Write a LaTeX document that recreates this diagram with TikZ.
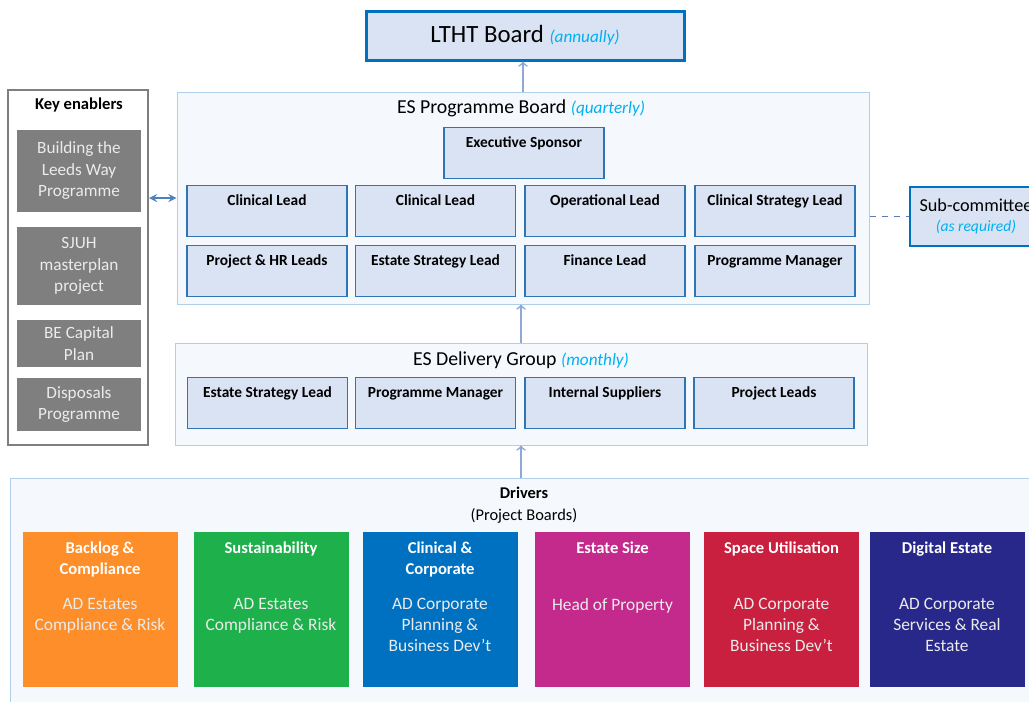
\documentclass[tikz,border=0pt]{standalone}
\usepackage{fontspec}
\setmainfont{Carlito}
\usetikzlibrary{positioning}
\usetikzlibrary{arrows}
\usepackage{xcolor}

\definecolor{lblue}{HTML}{00B0F0}
\definecolor{boxfill}{HTML}{DAE3F3}
\definecolor{boxline}{HTML}{2E75B6}
\definecolor{darkline}{HTML}{0070C0}
\definecolor{grpfill}{HTML}{F5F9FE}
\definecolor{grpline}{HTML}{AFCFEB}
\definecolor{arrline}{HTML}{8EA9D6}
\definecolor{kearrow}{HTML}{4F81BD}
\definecolor{dashline}{HTML}{5A7EB0}
\definecolor{kegrey}{HTML}{7F7F7F}
\definecolor{orng}{HTML}{FD8E2A}
\definecolor{grn}{HTML}{1DB04B}
\definecolor{blu}{HTML}{0070C0}
\definecolor{mag}{HTML}{C4298C}
\definecolor{rd}{HTML}{C8203E}
\definecolor{nvy}{HTML}{28288A}

\newcommand{\cadence}[2][8.6]{{\fontsize{#1}{10}\selectfont\itshape\color{lblue}#2}}
\newcommand{\titlefont}{\fontsize{9.9}{12}\selectfont}

\tikzset{
  grp/.style={draw=grpline, fill=grpfill, line width=0.5pt, inner sep=0pt},
  role/.style={draw=boxline, fill=boxfill, line width=0.7pt, minimum width=80pt,
    inner sep=0pt, text height=10pt, text depth=15.5pt,
    font=\fontsize{7.7}{9}\selectfont\bfseries},
  keybox/.style={fill=kegrey, text=white!92!black, minimum width=62pt, inner sep=0pt,
    align=center, font=\fontsize{8.6}{10.75}\selectfont},
  drv/.style={minimum width=77.5pt, minimum height=77.5pt, inner sep=0pt},
  drvhead/.style={text=white, align=center, inner sep=0pt,
    font=\fontsize{8.3}{10.5}\selectfont\bfseries},
  drvbody/.style={text=white!92!black, align=center, inner sep=0pt,
    font=\fontsize{8.7}{10.5}\selectfont},
}

\begin{document}
\begin{tikzpicture}[x=0.5pt, y=-0.5pt]
%% \draw[help lines, step=50] (0,0) grid (1029,702);
\useasboundingbox (0,0) rectangle (1029,702);
\clip (0,0) rectangle (1029,702);

% top
\node[draw=darkline, line width=1.5pt, fill=boxfill, minimum width=159pt, minimum height=24.5pt,
  font=\fontsize{12.4}{14}\selectfont] (lth) at (525,35.5) {LTHT Board \cadence{(annually)}};

% programme board
\node[grp, minimum width=346pt, minimum height=106pt] (pb) at (523,198) {};
\node[font=\titlefont] (pbt) at (521,108) {ES Programme Board \cadence{(quarterly)}};
\node[role] (es) at (524,153) {Executive Sponsor};
\node[role] (cl1) at (267,211) {Clinical Lead};
\node[role] (cl2) at (435.5,211) {Clinical Lead};
\node[role] (opl) at (605,211) {Operational Lead};
\node[role] (csl) at (775,211) {Clinical Strategy Lead};
\node[role] (phr) at (267,271) {Project \& HR Leads};
\node[role] (esl) at (435.5,271) {Estate Strategy Lead};
\node[role] (fin) at (605,271) {Finance Lead};
\node[role] (pgm) at (775,271) {Programme Manager};

% delivery group
\node[grp, minimum width=346pt, minimum height=51pt] (dg) at (521,394) {};
\node[font=\titlefont] (dgt) at (521,360) {ES Delivery Group \cadence{(monthly)}};
\node[role] (dsl) at (267.5,403) {Estate Strategy Lead};
\node[role] (dpm) at (435.5,403) {Programme Manager};
\node[role] (dis) at (605,403) {Internal Suppliers};
\node[role] (dpl) at (774,403) {Project Leads};

% key enablers
\node[draw=kegrey, line width=1pt, fill=white, minimum width=70pt, minimum height=177.5pt] (ke) at (78,267.5) {};
\node[font=\fontsize{8.3}{10}\selectfont\bfseries] (ket) at (79,105) {Key enablers};
\node[keybox, minimum height=41pt] (ke1) at (79,171) {Building the\\Leeds Way\\Programme};
\node[keybox, minimum height=39pt] (ke2) at (79,266) {SJUH\\masterplan\\project};
\node[keybox, minimum height=23.5pt] (ke3) at (79,343.5) {BE Capital\\Plan};
\node[keybox, minimum height=26.5pt] (ke4) at (79,404.5) {Disposals\\Programme};

% sub-committee
\node[draw=darkline, line width=1.1pt, fill=boxfill, minimum width=66pt, minimum height=29.5pt,
  align=center, font=\fontsize{9.1}{10}\selectfont] (sc) at (976,216.5) {Sub-committee\\\cadence[7.8]{(as required)}};

% drivers
\node[grp, minimum width=515pt, minimum height=118.5pt] (drv) at (525,596.5) {};
\node[align=center, font=\fontsize{8.2}{11}\selectfont] (drvt) at (524,505) {\textbf{Drivers}\\(Project Boards)};

\node[drv, fill=orng] (d1) at (100,609.5) {};
\node[drvhead, below=5pt of d1.north] (d1h) {Backlog \&\\Compliance};
\node[drvbody, below=33.3pt of d1.north] (d1b) {AD Estates\\Compliance \& Risk};

\node[drv, fill=grn] (d2) at (271,609.5) {};
\node[drvhead, below=5pt of d2.north] (d2h) {Sustainability};
\node[drvbody, below=33.3pt of d2.north] (d2b) {AD Estates\\Compliance \& Risk};

\node[drv, fill=blu] (d3) at (440,609.5) {};
\node[drvhead, below=5pt of d3.north] (d3h) {Clinical \&\\Corporate};
\node[drvbody, below=33.3pt of d3.north] (d3b) {AD Corporate\\Planning \&\\Business Dev’t};

\node[drv, fill=mag] (d4) at (612.5,609.5) {};
\node[drvhead, below=5pt of d4.north] (d4h) {Estate Size};
\node[drvbody, below=33.3pt of d4.north] (d4b) {Head of Property};

\node[drv, fill=rd] (d5) at (781.5,609.5) {};
\node[drvhead, below=5pt of d5.north] (d5h) {Space Utilisation};
\node[drvbody, below=33.3pt of d5.north] (d5b) {AD Corporate\\Planning \&\\Business Dev’t};

\node[drv, fill=nvy] (d6) at (947,609.5) {};
\node[drvhead, below=5pt of d6.north] (d6h) {Digital Estate};
\node[drvbody, below=33.3pt of d6.north] (d6b) {AD Corporate\\Services \& Real\\Estate};

% links
\draw [->, arrline, line width=0.8pt] (pb.north) -- (pb.north |- lth.south);
\draw [->, arrline, line width=0.8pt] (dg.north) -- (dg.north |- pb.south);
\draw [->, arrline, line width=0.8pt] (dg.south |- drv.north) -- (dg.south);
\draw [stealth-stealth, kearrow, line width=0.8pt] (pb.west -| ke.east) -- (pb.west);
\draw [dashed, dashline, line width=0.6pt] (sc.west -| pb.east) -- (sc.west);
\end{tikzpicture}
\end{document}
